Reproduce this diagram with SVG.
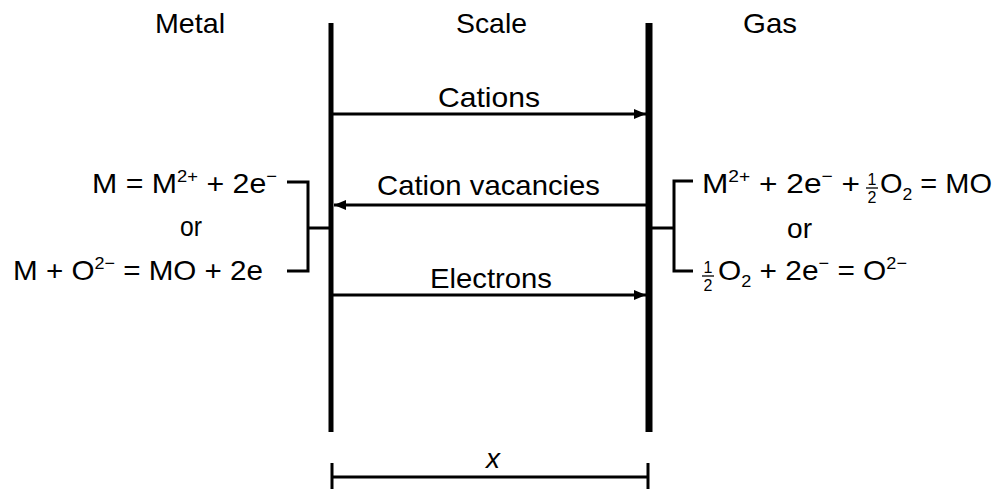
<svg xmlns="http://www.w3.org/2000/svg" width="1000" height="489" viewBox="0 0 1000 489">
<style>
text{font-family:"Liberation Sans",Arial,sans-serif;font-size:28px;fill:#000}
.sup{font-size:17px}
.fr{font-size:16px;text-anchor:middle}
.wall{stroke:#000;fill:none}
.ln{stroke:#000;stroke-width:3;fill:none}
</style>
<defs>
<marker id="ah" viewBox="0 0 12 10" refX="12" refY="5" markerWidth="12" markerHeight="10" markerUnits="userSpaceOnUse" orient="auto">
<path d="M0,0L12,5L0,10z" fill="#000"/>
</marker>
</defs>
<rect width="1000" height="489" fill="#fff"/>
<g id="headers">
<text x="155" y="33" textLength="70" lengthAdjust="spacingAndGlyphs">Metal</text>
<text x="456" y="33" textLength="71" lengthAdjust="spacingAndGlyphs">Scale</text>
<text x="743" y="33" textLength="54" lengthAdjust="spacingAndGlyphs">Gas</text>
</g>
<g id="scale-walls">
<line class="wall" x1="331" y1="23" x2="331" y2="432" stroke-width="5"/>
<line class="wall" x1="649" y1="23" x2="649" y2="432" stroke-width="7"/>
</g>
<g id="connectors">
<line class="ln" x1="333" y1="114" x2="646" y2="114" marker-end="url(#ah)"/>
<line class="ln" x1="646" y1="205" x2="334" y2="205" stroke-width="2" marker-end="url(#ah)"/>
<line class="ln" x1="333" y1="295" x2="646" y2="295" marker-end="url(#ah)"/>
<path class="ln" d="M287,182H308V271H287M308,228H331"/>
<path class="ln" d="M693,181H674V271H693M651,228H674"/>
<path d="M332,477H648M332,463V489M648,463V489" stroke="#000" stroke-width="3" fill="none"/>
</g>
<g id="labels">
<text x="438" y="107" textLength="102" lengthAdjust="spacingAndGlyphs">Cations</text>
<text x="377" y="195" textLength="223" lengthAdjust="spacingAndGlyphs">Cation vacancies</text>
<text x="430" y="288" textLength="122" lengthAdjust="spacingAndGlyphs">Electrons</text>
<text x="486" y="468" font-style="italic" textLength="14" lengthAdjust="spacingAndGlyphs">x</text>
</g>
<g id="metal-reactions">
<text x="92" y="193" textLength="185" lengthAdjust="spacingAndGlyphs">M = M<tspan class="sup" dy="-11">2+</tspan><tspan dy="11"> + 2e</tspan><tspan class="sup" dy="-11">−</tspan></text>
<text x="180" y="236" textLength="22" lengthAdjust="spacingAndGlyphs">or</text>
<text x="13" y="280" textLength="250" lengthAdjust="spacingAndGlyphs">M + O<tspan class="sup" dy="-11">2−</tspan><tspan dy="11"> = MO + 2e</tspan></text>
</g>
<g id="gas-reactions">
<text x="702" y="193" textLength="158" lengthAdjust="spacingAndGlyphs">M<tspan class="sup" dy="-11">2+</tspan><tspan dy="11"> + 2e</tspan><tspan class="sup" dy="-11">−</tspan><tspan dy="11"> +</tspan></text>
<text class="fr" x="872" y="185">1</text>
<line x1="866" y1="188" x2="878" y2="188" stroke="#000" stroke-width="1.3"/>
<text class="fr" x="872" y="203">2</text>
<text x="880" y="193" textLength="112" lengthAdjust="spacingAndGlyphs">O<tspan class="sup" dy="7">2</tspan><tspan dy="-7"> = MO</tspan></text>
<text x="787" y="238" textLength="25" lengthAdjust="spacingAndGlyphs">or</text>
<text class="fr" x="708" y="273">1</text>
<line x1="702" y1="276" x2="714" y2="276" stroke="#000" stroke-width="1.3"/>
<text class="fr" x="708" y="291">2</text>
<text x="718" y="280" textLength="189" lengthAdjust="spacingAndGlyphs">O<tspan class="sup" dy="7">2</tspan><tspan dy="-7"> + 2e</tspan><tspan class="sup" dy="-11">−</tspan><tspan dy="11"> = O</tspan><tspan class="sup" dy="-11">2−</tspan></text>
</g>
</svg>
